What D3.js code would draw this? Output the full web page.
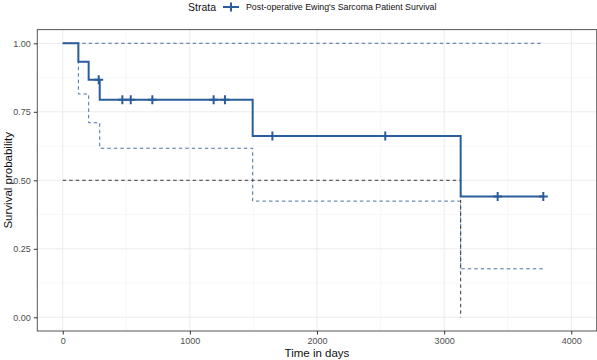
<!DOCTYPE html>
<html><head><meta charset="utf-8">
<script src="https://cdn.jsdelivr.net/npm/d3@7/dist/d3.min.js"></script>
<style>body{margin:0;background:#fff}svg{display:block;font-family:"Liberation Sans",Arial,sans-serif}</style>
</head><body><svg id="c" width="597" height="360"></svg>
<script>
// ---- data ----
const stepTimes   = [0, 123, 204, 291, 1494, 3130, 3780];
const survival    = [1, 0.933, 0.867, 0.794, 0.662, 0.441, 0.441];
const lowerCI     = [1, 0.815, 0.710, 0.617, 0.424, 0.177, 0.177];
const upperCI     = [1, 1, 1, 1, 1, 1, 1];
const censorTimes = [283, 469, 535, 705, 1187, 1276, 1649, 2537, 3421, 3780];
const medianSurv  = 0.5;
const medianTime  = 3130;
const xTicks = [0, 1000, 2000, 3000, 4000];
const xMinor = [500, 1500, 2500, 3500];
const yTicks = [0, 0.25, 0.5, 0.75, 1];
const yMinor = [0.125, 0.375, 0.625, 0.875];
const legendTitle = "Strata";
const legendLabel = "Post-operative Ewing's Sarcoma Patient Survival";
const xTitle = "Time in days";
const yTitle = "Survival probability";

// ---- layout ----
const svg = d3.select("#c");
const P = {l: 37.3, r: 596.7, t: 29.6, b: 331};
const x = d3.scaleLinear().domain([-200, 4200]).range([P.l, P.r]);
const y = d3.scaleLinear().domain([-0.05, 1.05]).range([P.b, P.t]);

const lineCol = "#2B5C9B", ciCol = "#4A73A3", medCol = "#3a3a3a";

// grid
const g = svg.append("g");
xMinor.forEach(v => g.append("line").attr("x1", x(v)).attr("x2", x(v)).attr("y1", P.t).attr("y2", P.b).attr("stroke", "#F2F2F2").attr("stroke-width", 0.6));
yMinor.forEach(v => g.append("line").attr("y1", y(v)).attr("y2", y(v)).attr("x1", P.l).attr("x2", P.r).attr("stroke", "#F2F2F2").attr("stroke-width", 0.6));
xTicks.forEach(v => g.append("line").attr("x1", x(v)).attr("x2", x(v)).attr("y1", P.t).attr("y2", P.b).attr("stroke", "#EBEBEB").attr("stroke-width", 1));
yTicks.forEach(v => g.append("line").attr("y1", y(v)).attr("y2", y(v)).attr("x1", P.l).attr("x2", P.r).attr("stroke", "#EBEBEB").attr("stroke-width", 1));

// step line generator
const pts = (arr) => stepTimes.map((t, i) => [t, arr[i]]);
const stepLine = d3.line().x(d => x(d[0])).y(d => y(d[1])).curve(d3.curveStepAfter);

// CI
svg.append("path").attr("d", stepLine(pts(upperCI))).attr("fill", "none").attr("stroke", ciCol).attr("stroke-width", 1).attr("stroke-dasharray", "3.5,3");
svg.append("path").attr("d", stepLine(pts(lowerCI))).attr("fill", "none").attr("stroke", ciCol).attr("stroke-width", 1).attr("stroke-dasharray", "3.5,3");

// median lines
svg.append("path").attr("d", d3.line()([[x(0), y(medianSurv)], [x(medianTime), y(medianSurv)]]))
  .attr("fill", "none").attr("stroke", medCol).attr("stroke-width", 1).attr("stroke-dasharray", "3.5,3");
svg.append("path").attr("d", d3.line()([[x(medianTime), y(medianSurv)], [x(medianTime), y(0)]]))
  .attr("fill", "none").attr("stroke", medCol).attr("stroke-width", 1).attr("stroke-dasharray", "3.5,3");

// survival curve
svg.append("path").attr("d", stepLine(pts(survival))).attr("fill", "none").attr("stroke", lineCol).attr("stroke-width", 2);

// censor marks
const survAt = t => { let s = survival[0]; stepTimes.forEach((st, i) => { if (st <= t) s = survival[i]; }); return s; };
censorTimes.forEach(t => {
  const cx = x(t), cy = y(survAt(t));
  svg.append("path").attr("d", `M${cx-4.5},${cy}H${cx+4.5}M${cx},${cy-4.5}V${cy+4.5}`).attr("stroke", lineCol).attr("stroke-width", 2);
});

// panel border
svg.append("rect").attr("x", P.l).attr("y", P.t).attr("width", P.r - P.l).attr("height", P.b - P.t)
  .attr("fill", "none").attr("stroke", "#555").attr("stroke-width", 1);

// axes
const xAxis = svg.append("g").attr("transform", `translate(0,${P.b})`)
  .call(d3.axisBottom(x).tickValues(xTicks).tickSize(3.5).tickPadding(3).tickFormat(d3.format("d")));
const yAxis = svg.append("g").attr("transform", `translate(${P.l},0)`)
  .call(d3.axisLeft(y).tickValues(yTicks).tickSize(3.5).tickPadding(3).tickFormat(d3.format(".2f")));
[xAxis, yAxis].forEach(a => {
  a.select(".domain").remove();
  a.selectAll(".tick line").attr("stroke", "#333");
  a.selectAll(".tick text").attr("fill", "#4D4D4D").attr("font-size", 9).attr("font-family", "Liberation Sans, Arial, sans-serif");
});

// axis titles
svg.append("text").attr("x", (P.l + P.r) / 2).attr("y", 357).attr("text-anchor", "middle")
  .attr("font-size", 11.5).attr("fill", "#111").text(xTitle);
svg.append("text").attr("transform", `translate(12,${(P.t + P.b) / 2}) rotate(-90)`).attr("text-anchor", "middle")
  .attr("font-size", 11.5).attr("fill", "#111").text(yTitle);

// legend
svg.append("text").attr("x", 188).attr("y", 11).attr("font-size", 10.5).attr("fill", "#111").text(legendTitle);
const lx = 231, ly = 7;
svg.append("path").attr("d", `M${lx-8},${ly}H${lx+8}`).attr("stroke", lineCol).attr("stroke-width", 2);
svg.append("path").attr("d", `M${lx},${ly-4.5}V${ly+4.5}`).attr("stroke", lineCol).attr("stroke-width", 2);
svg.append("text").attr("x", 246).attr("y", 10).attr("font-size", 8.8).attr("fill", "#111").text(legendLabel);
</script></body></html>
